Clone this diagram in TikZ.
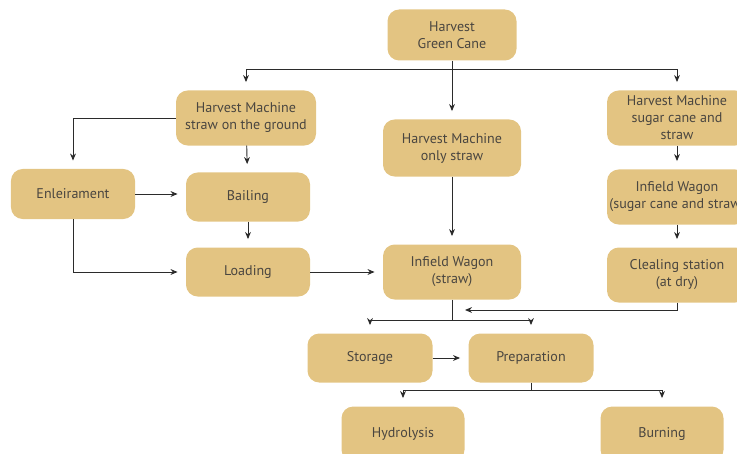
\documentclass[tikz,border=0pt]{standalone}
\usepackage{fontspec}
\setmainfont{PT Sans}
\usetikzlibrary{arrows.meta,positioning}

\definecolor{canefill}{HTML}{E3C482}
\definecolor{canetext}{HTML}{4A4640}
\definecolor{caneline}{HTML}{2B2B2B}

\tikzset{
  stage/.style={rectangle, rounded corners=10pt, fill=canefill, draw=none,
    text=canetext, align=center, inner sep=0pt,
    font=\fontsize{12}{14.5}\selectfont},
  flow/.style={draw=caneline, line width=0.8pt,
    -{Stealth[length=6pt,width=5pt]}, shorten >=7pt},
  link/.style={draw=caneline, line width=0.8pt}
}

\begin{document}
\begin{tikzpicture}[x=0.03cm, y=-0.03cm]
  \useasboundingbox (0,0) rectangle (737,453);

  % top
  \node[stage, minimum width=3.87cm, minimum height=1.53cm] (green) at (452,35)
        {Harvest\\Green Cane};

  % three harvest options
  \node[stage, minimum width=4.2cm, minimum height=1.65cm] (hground) at (246,118)
        {Harvest Machine\\straw on the ground};
  \node[stage, minimum width=4.14cm, minimum height=1.71cm] (honly) at (452,148)
        {Harvest Machine\\only straw};
  \node[stage, minimum width=4.2cm, minimum height=1.65cm] (hcane) at (677,118)
        {Harvest Machine\\sugar cane and\\straw};

  % left branch
  \node[stage, minimum width=3.72cm, minimum height=1.5cm] (enleir) at (73,194)
        {Enleirament};
  \node[stage, minimum width=3.72cm, minimum height=1.47cm] (bailing) at (248,197)
        {Bailing};
  \node[stage, minimum width=3.72cm, minimum height=1.47cm] (loading) at (248,272)
        {Loading};

  % wagons
  \node[stage, minimum width=4.14cm, minimum height=1.65cm] (wstraw) at (452,272)
        {Infield Wagon\\(straw)};
  \node[stage, minimum width=4.2cm, minimum height=1.65cm] (wcane) at (677,197)
        {Infield Wagon\\(sugar cane and straw)};
  \node[stage, minimum width=4.2cm, minimum height=1.65cm] (station) at (677,275)
        {Clealing station\\(at dry)};

  % processing
  \node[stage, minimum width=3.75cm, minimum height=1.47cm] (storage) at (370,358)
        {Storage};
  \node[stage, minimum width=3.75cm, minimum height=1.47cm] (prep) at (531,358)
        {Preparation};
  \node[stage, minimum width=3.69cm, minimum height=1.65cm] (hydro) at (403,434)
        {Hydrolysis};
  \node[stage, minimum width=3.69cm, minimum height=1.65cm] (burn) at (662,434)
        {Burning};

  % junctions
  \coordinate (split)   at (452,69);
  \coordinate (gather)  at (452,320);
  \coordinate (inlet)   at (465,310);
  \coordinate (fork)    at (531,390);

  \draw[link] (green) -- (split);
  \draw[flow] (split) -| (hground);
  \draw[flow] (split) -- (honly);
  \draw[flow] (split) -| (hcane);

  \draw[flow] (hground.west) -| (enleir);
  \draw[flow] (hground) -- (bailing);
  \draw[flow] (enleir) -- (enleir -| bailing.west);
  \draw[flow] (enleir) |- (loading);
  \draw[flow] (bailing) -- (loading);
  \draw[flow] (loading) -- (wstraw);
  \draw[flow] (honly) -- (wstraw);

  \draw[flow] (hcane) -- (wcane);
  \draw[flow] (wcane) -- (station);
  \draw[flow, shorten >=0pt] (station.south) |- (inlet);

  \draw[link] (wstraw) -- (gather);
  \draw[flow] (gather) -| (storage);
  \draw[flow] (gather) -| (prep);
  \draw[flow] (storage) -- (prep);

  \draw[link] (prep) -- (fork);
  \draw[flow] (fork) -| (hydro);
  \draw[flow] (fork) -| (burn);
\end{tikzpicture}
\end{document}
